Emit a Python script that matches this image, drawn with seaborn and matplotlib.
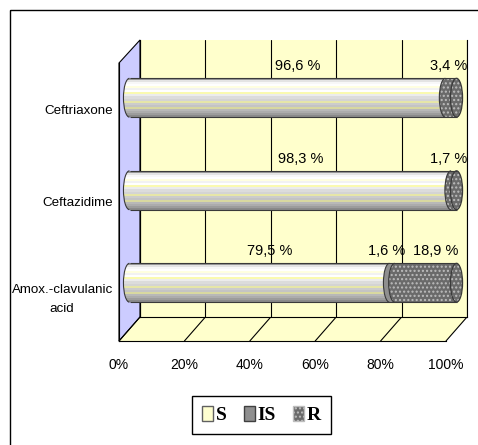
import numpy as np
import pandas as pd
import matplotlib
matplotlib.use("Agg")
import matplotlib.pyplot as plt
from matplotlib.patches import Polygon, Rectangle, Ellipse, Arc, Patch
from matplotlib.transforms import blended_transform_factory
import seaborn as sns

# data
drugs = ["Ceftriaxone", "Ceftazidime", "Amox.-clavulanic\nacid"]
s_vals = [96.6, 98.3, 79.5]
is_vals = [0.0, 0.0, 1.6]
r_vals = [3.4, 1.7, 18.9]
series = ["S", "IS", "R"]
x_ticks = [0, 20, 40, 60, 80, 100]

sns.set_style("white")
plt.rcParams["font.family"] = ["Liberation Sans", "DejaVu Sans"]
plt.rcParams["text.color"] = "black"
plt.rcParams["xtick.color"] = "black"
plt.rcParams["ytick.color"] = "black"
plt.rcParams["xtick.labelcolor"] = "black"
plt.rcParams["ytick.labelcolor"] = "black"

df = pd.DataFrame({"drug": drugs, "S": s_vals, "IS": is_vals, "R": r_vals})
df["S+IS"] = df["S"] + df["IS"]
df["total"] = df["S+IS"] + df["R"]

W, H = 478, 445
fig = plt.figure(figsize=(W / 100, H / 100), dpi=100)


def box(x0, y0, x1, y1):
    return [x0 / W, 1 - y1 / H, (x1 - x0) / W, (y1 - y0) / H]


wall_yellow = "#ffffcc"
wall_blue = "#ccccff"
is_color = "#8f8f8f"
r_face = "#6a6a6a"
r_dots = "#bdbdbd"
outline = "#3a3a3a"

# ---------------------------------------------------
# canvas: frame, floor, side wall
ax_c = fig.add_axes([0, 0, 1, 1], zorder=0)
ax_c.set_xlim(0, W)
ax_c.set_ylim(H, 0)
ax_c.axis("off")

ax_c.add_patch(Rectangle((10, 10), 600, 600, fill=False, edgecolor="black", lw=1))

front_x0, back_x0, span = 119, 140, 327
front_y, back_y = 341, 317
ax_c.add_patch(Polygon([(front_x0, front_y), (front_x0 + span, front_y),
                        (back_x0 + span, back_y), (back_x0, back_y)],
                       closed=True, facecolor=wall_yellow, edgecolor="none"))
ax_c.add_patch(Polygon([(front_x0, 63), (back_x0, 40), (back_x0, back_y), (front_x0, front_y)],
                       closed=True, facecolor=wall_blue, edgecolor="black", lw=0.8))
for t in x_ticks:
    ax_c.plot([front_x0 + span * t / 100, back_x0 + span * t / 100], [front_y, back_y],
              color="black", lw=0.8)

# back wall
ax_bg = fig.add_axes(box(back_x0, 40, back_x0 + span, back_y), zorder=1)
ax_bg.set_facecolor(wall_yellow)
ax_bg.set_xlim(0, 100)
ax_bg.set_ylim(0, 1)
ax_bg.set_xticks(x_ticks)
ax_bg.set_yticks([])
ax_bg.tick_params(length=0, labelbottom=False)
ax_bg.grid(True, axis="x", color="black", lw=0.8)
for side in ["left", "right", "bottom"]:
    ax_bg.spines[side].set_color("black")
    ax_bg.spines[side].set_linewidth(0.8)
ax_bg.spines["top"].set_visible(False)

# front axis with ticks and labels
ax_f = fig.add_axes(box(front_x0, 63, front_x0 + span, front_y), zorder=2)
ax_f.patch.set_alpha(0)
ax_f.set_xlim(0, 100)
ax_f.set_ylim(2.5, -0.5)
ax_f.set_xticks(x_ticks, labels=[f"{t}%" for t in x_ticks])
ax_f.set_yticks([-0.5, 0.5, 1.5, 2.5], labels=[])
ax_f.set_yticks(range(len(drugs)), labels=drugs, minor=True)
ax_f.tick_params(axis="x", direction="out", length=3, width=0.8, pad=9, labelsize=10)
ax_f.tick_params(axis="y", which="major", direction="out", length=4, width=0.8)
ax_f.tick_params(axis="y", which="minor", length=0, pad=4.5, labelsize=9.6)
for lab in ax_f.get_yticklabels(minor=True):
    lab.set_multialignment("center")
    lab.set_linespacing(1.8)
for side in ["left", "bottom"]:
    ax_f.spines[side].set_color("black")
    ax_f.spines[side].set_linewidth(0.8)
for side in ["top", "right"]:
    ax_f.spines[side].set_visible(False)

# ---------------------------------------------------
# bars (cylinders)
mid_x0, mid_y0, mid_y1 = 129.5, 51.5, 329
ppu = span / 100
xlo, xhi = -5, 105
ax_b = fig.add_axes(box(mid_x0 + xlo * ppu, mid_y0, mid_x0 + xhi * ppu, mid_y1), zorder=3)
ax_b.patch.set_alpha(0)

bw = 0.42
layers = [("total", 1), ("S+IS", 2), ("S", 3)]
bars = {}
for col, z in layers:
    n0 = len(ax_b.patches)
    sns.barplot(data=df, x=col, y="drug", orient="h", width=bw, color="white",
                errorbar=None, linewidth=0, zorder=z, ax=ax_b)
    bars[col] = ax_b.patches[n0:]

stripes = ["#9a9a9a", "#e4e4e4", "#f8f8f8", "#ffffff", "#ffffe0", "#f2f2f2", "#ffffff",
           "#fafab0", "#ececec", "#dcdcdc", "#d4d4d4", "#e6e6a8", "#cccccc", "#c4c4c4",
           "#d8d8a0", "#b8b8b8", "#acacac", "#9c9c9c", "#8a8a8a"]
stripe_img = np.array([matplotlib.colors.to_rgb(c) for c in stripes]).reshape(-1, 1, 3)


def shade(patch, extent, z):
    im = ax_b.imshow(stripe_img, extent=extent, aspect="auto",
                     interpolation="nearest", zorder=z)
    im.set_clip_path(patch)


def r_style(p):
    p.set_facecolor(r_face)
    p.set_hatch("....")
    p.set_edgecolor(r_dots)
    p.set_linewidth(0)


for p in bars["total"]:
    r_style(p)
for p in bars["S+IS"]:
    p.set_facecolor(is_color)
for p in bars["S"]:
    p.set_facecolor("none")
    shade(p, (p.get_x(), p.get_x() + p.get_width(), p.get_y() + p.get_height(), p.get_y()), 3)

ew = 3.7  # end ellipse width in data units
for i, row in df.iterrows():
    # left end of S
    e = Ellipse((0, i), ew, bw, facecolor="none", edgecolor="none", zorder=3)
    ax_b.add_patch(e)
    shade(e, (-ew / 2, ew / 2, i + bw / 2, i - bw / 2), 3)
    ax_b.add_patch(Arc((0, i), ew, bw, theta1=90, theta2=270, color=outline, lw=0.8, zorder=7))
    if row["IS"] > 0:
        ax_b.add_patch(Ellipse((row["S"], i), ew, bw, facecolor=is_color, edgecolor="none", zorder=4))
        ax_b.add_patch(Arc((row["S"], i), ew, bw, theta1=90, theta2=270, color=outline, lw=0.8, zorder=7))
    if row["R"] > 0:
        e = Ellipse((row["S+IS"], i), ew, bw, zorder=5)
        r_style(e)
        ax_b.add_patch(e)
        ax_b.add_patch(Arc((row["S+IS"], i), ew, bw, theta1=90, theta2=270, color=outline, lw=0.8, zorder=7))
    cap = Ellipse((row["total"], i), ew, bw, zorder=6)
    r_style(cap)
    ax_b.add_patch(cap)
    ax_b.add_patch(Ellipse((row["total"], i), ew, bw, fill=False, edgecolor=outline, lw=0.9, zorder=7))
    ax_b.hlines([i - bw / 2, i + bw / 2], 0, row["total"], color=outline, lw=0.8, zorder=7)

ax_b.set_xlim(xlo, xhi)
ax_b.set_ylim(2.5, -0.5)
ax_b.axis("off")

# value labels
trans = blended_transform_factory(ax_bg.transData, ax_b.transData)
for i, row in df.iterrows():
    start = 0
    for name in series:
        v = row[name]
        if v > 0:
            txt = f"{v:.1f}".replace(".", ",") + " %"
            if v < 5:
                ax_b.text(start + v, i - 0.34, txt, ha="right", va="center", fontsize=10.5,
                          color="black", transform=trans, zorder=8)
            else:
                ax_b.text(start + v / 2, i - 0.34, txt, ha="center", va="center", fontsize=10.5,
                          color="black", transform=trans, zorder=8)
        start += v

# legend
handles = [Patch(facecolor="#ffffd0", edgecolor="#606060"),
           Patch(facecolor=is_color, edgecolor="#404040"),
           Patch(facecolor=r_face, edgecolor=r_dots, hatch="....")]
leg = fig.legend(handles, series, loc="center", bbox_to_anchor=(261.5 / W, 1 - 415 / H), ncol=3,
                 frameon=True, fancybox=False, edgecolor="black", framealpha=1,
                 prop=dict(family=["Liberation Serif", "DejaVu Serif"], weight="bold", size=14),
                 handlelength=0.55, handleheight=0.8, handletextpad=0.15, columnspacing=0.9,
                 borderpad=0.5)
leg.get_frame().set_linewidth(1)

fig.savefig("out.png", dpi=100)
